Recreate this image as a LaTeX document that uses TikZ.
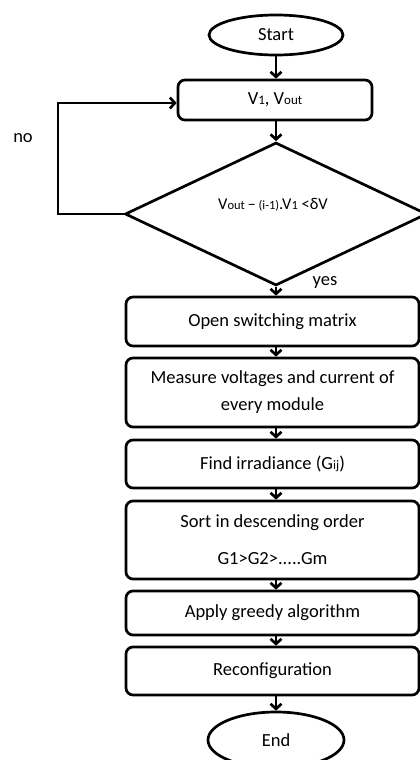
\documentclass[tikz,border=0pt]{standalone}
\usepackage{fontspec}
\setmainfont{Carlito}
\usetikzlibrary{shapes.geometric,arrows.meta}
% smaller glyphs used for indices such as "out", "1", "ij"
\newcommand\idxbig[1]{{\fontsize{13}{15}\selectfont #1}}
\newcommand\idxsmall[1]{{\fontsize{12.5}{14}\selectfont #1}}
\begin{document}
\begin{tikzpicture}[x=1pt,y=-1pt,
  every node/.style={font=\fontsize{18.5}{22}\selectfont},
  proc/.style={draw, line width=2.7pt, rounded corners=7pt, minimum width=293pt,
               inner sep=0pt, align=center},
  term/.style={draw, ellipse, line width=2.7pt, minimum width=134pt, inner sep=0pt},
  decision/.style={draw, diamond, line width=2.7pt, minimum width=302pt,
                   minimum height=143pt, inner sep=0pt},
  arr/.style={line width=2.7pt, -{Straight Barb[length=5pt,width=11pt]}}]
\useasboundingbox (0,0) rectangle (420,760);
\clip (0,0) rectangle (420,760);

% terminals, steps and the test
\node[term, minimum height=40pt] (start) at (276,35) {Start};
\node[proc, minimum width=194pt, minimum height=40pt] (v1) at (275,100) {V\idxbig{1}, V\idxbig{out}};
\node[decision] (dia) at (276,214) {};
\node[anchor=base, font=\fontsize{16.5}{18}\selectfont] (cond) at (273,209)
  {V\idxsmall{out}\,--\,\idxsmall{(i-1)}.V\idxsmall{1} <δV};
\node[proc, minimum height=49pt] (open) at (272.5,321.5) {Open switching matrix};
\node[proc, minimum height=69pt, font=\fontsize{18.5}{27}\selectfont] (meas) at (272.5,392.5)
  {Measure voltages and current of\\every module};
\node[proc, minimum height=48pt] (find) at (272.5,464) {Find irradiance (G\idxbig{ij})};
\node[proc, minimum height=78pt, font=\fontsize{18.5}{37}\selectfont] (sort) at (272.5,540)
  {Sort in descending order\\G1>G2>.....Gm};
\node[proc, minimum height=44pt] (apply) at (272.5,613) {Apply greedy algorithm};
\node[proc, minimum height=48pt] (reconf) at (272.5,671) {Reconfiguration};
\node[term, minimum height=56pt, minimum width=136pt] (end) at (276,740) {End};

% branch labels
\node (yes) at (325,283) {yes};
\node (no) at (23,138) {no};

% main flow
\draw[arr] (start.south) -- (v1.north -| start);
\draw[arr] (v1.south -| start) -- (dia.north);
\draw[arr] (dia.south) -- (open.north -| start);
\draw[arr] (open.south -| start) -- (meas.north -| start);
\draw[arr] (meas.south -| start) -- (find.north -| start);
\draw[arr] (find.south -| start) -- (sort.north -| start);
\draw[arr] (sort.south -| start) -- (apply.north -| start);
\draw[arr] (apply.south -| start) -- (reconf.north -| start);
\draw[arr] (reconf.south -| start) -- (end.north);

% "no" loop back to the measurement step
\coordinate (loop) at (58,214);
\coordinate (back) at ([yshift=-3pt]v1.west);
\draw[arr] (dia.west) -- (loop) |- (back);
\end{tikzpicture}
\end{document}
